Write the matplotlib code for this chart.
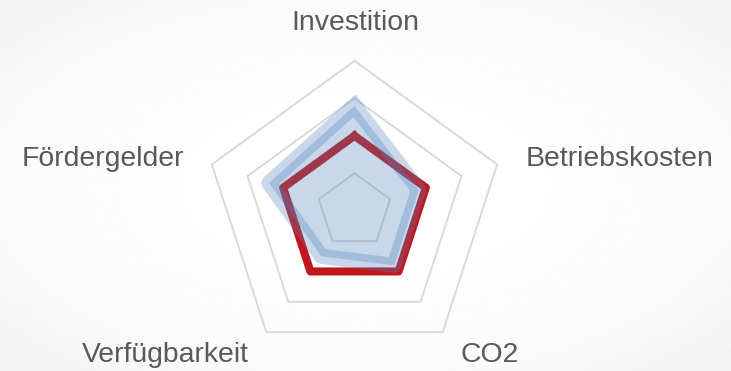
import numpy as np
import matplotlib
matplotlib.use('Agg')
import matplotlib.pyplot as plt

# data
categories = ['Investition', 'Betriebskosten', 'CO2', 'Verfügbarkeit', 'Fördergelder']
blue_values = [2.8, 1.8, 1.8, 1.5, 2.4]
red_values = [2.0, 2.0, 2.0, 2.0, 2.0]
grid_levels = [1, 2, 3, 4]

W, H = 731, 371
fig = plt.figure(figsize=(W / 100, H / 100), dpi=100)
fig.patch.set_facecolor('white')

# soft radial background
bg = fig.add_axes([0, 0, 1, 1])
yy, xx = np.mgrid[0:1:200j, 0:1:400j]
d = np.sqrt(((xx - 0.5) / 0.5) ** 2 + ((yy - 0.5) / 0.5) ** 2) / np.sqrt(2)
bg.imshow(1 - 0.05 * d ** 2.5, cmap='gray', vmin=0, vmax=1, aspect='auto',
          extent=[0, 1, 0, 1])
bg.axis('off')

# polar axes: center (354.5, 210.8) px, radius 150 px
cx, cy, R = 354.5, 210.8, 150
ax = fig.add_axes([(cx - R) / W, (H - cy - R) / H, 2 * R / W, 2 * R / H],
                  projection='polar')
ax.patch.set_alpha(0)
ax.set_theta_offset(np.pi / 2)
ax.set_theta_direction(-1)
ax.set_ylim(0, 4)
ax.set_xticks([])
ax.set_yticks([])
ax.grid(False)
ax.spines['polar'].set_visible(False)

n = len(categories)
theta = np.linspace(0, 2 * np.pi, n, endpoint=False)
theta_c = np.append(theta, theta[0])

for lv in grid_levels:
    ax.plot(theta_c, [lv] * (n + 1), color='#d9d9d9', lw=1.4, zorder=1,
            clip_on=False)

red_c = np.append(red_values, red_values[0])
ax.plot(theta_c, red_c, color='#c3161c', lw=5.8, solid_joinstyle='round',
        zorder=2, clip_on=False)

blue_c = np.append(blue_values, blue_values[0])
ax.fill(theta_c, blue_c, color='#4f81bd', alpha=0.31, lw=0, zorder=3)
ax.plot(theta_c, blue_c, color='#4f81bd', alpha=0.31, lw=11,
        solid_joinstyle='round', zorder=3, clip_on=False)

# category labels (pixel anchor: x, baseline y, alignment)
label_pos = [(355, 30, 'center'), (526, 166.5, 'left'), (460.5, 361.5, 'left'),
             (249, 361.5, 'right'), (184, 166.5, 'right')]
for name, (x, y, ha) in zip(categories, label_pos):
    fig.text(x / W, 1 - y / H, name, ha=ha, va='baseline', fontsize=20.4,
             color='#595959', family='Liberation Sans')

fig.savefig('out.png', dpi=100)
